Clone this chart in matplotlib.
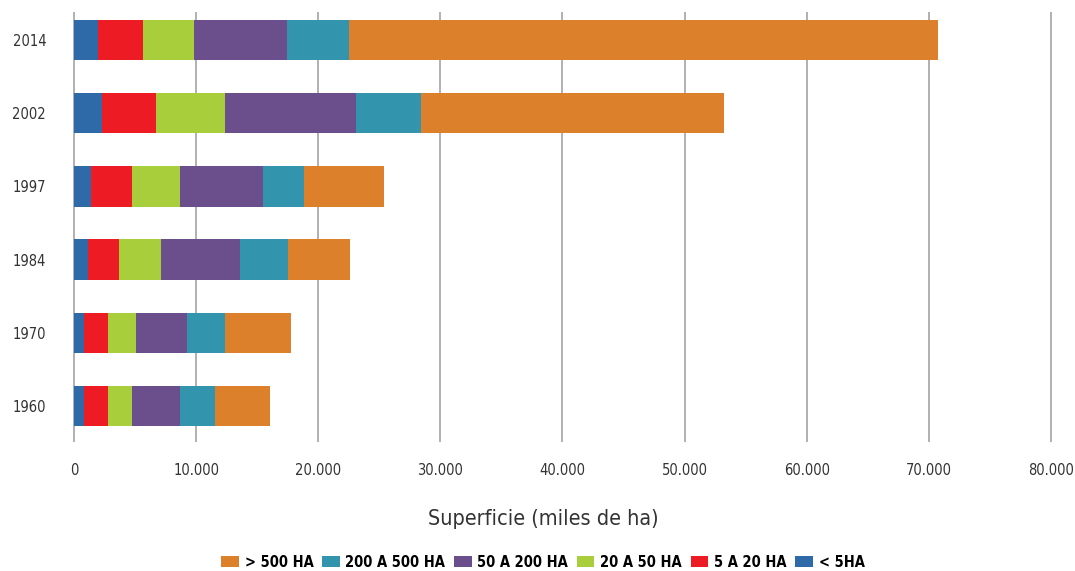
import numpy as np
import matplotlib
matplotlib.use("Agg")
import matplotlib.pyplot as plt
from matplotlib.ticker import FuncFormatter

plt.rcParams['font.family'] = ['DejaVu Sans']
plt.rcParams['font.stretch'] = 'condensed'

years = ["1960", "1970", "1984", "1997", "2002", "2014"]
labels = ["< 5HA", "5 A 20 HA", "20 A 50 HA", "50 A 200 HA", "200 A 500 HA", "> 500 HA"]
colors = ["#2E6AA8", "#ED1C24", "#A8CE3B", "#6B4F8C", "#3394AE", "#DD802B"]

# miles de ha per size class, 1960 -> 2014
lt5 = [820, 820, 1150, 1420, 2290, 1970]
a5_20 = [1970, 1970, 2540, 3360, 4450, 3710]
a20_50 = [1990, 2290, 3440, 3930, 5650, 4150]
a50_200 = [3930, 4180, 6470, 6800, 10730, 7640]
a200_500 = [2870, 3110, 3930, 3360, 5320, 5080]
gt500 = [4500, 5400, 5080, 6550, 24820, 48160]

series = [lt5, a5_20, a20_50, a50_200, a200_500, gt500]

fig = plt.figure(figsize=(10.75, 5.71), dpi=100)
ax = fig.add_axes([0.0688, 0.2277, 0.9089, 0.7495])

y = np.arange(len(years))
left = np.zeros(len(years))
handles = []
for vals, lab, col in zip(series, labels, colors):
    b = ax.barh(y, vals, left=left, height=0.55, color=col, label=lab, zorder=3)
    handles.append(b)
    left += np.array(vals)

ax.set_xlim(0, 80000)
ax.set_ylim(-0.48, 5.37)
ax.set_yticks(y)
ax.set_yticklabels(years)
ax.set_xticks(np.arange(0, 80001, 10000))
ax.xaxis.set_major_formatter(FuncFormatter(lambda v, p: "0" if v == 0 else f"{int(v):,}".replace(",", ".")))
ax.grid(axis="x", color="#b0b0b0", linewidth=1.4, zorder=0)
for gl in ax.get_xgridlines():
    gl.set_clip_on(False)
for s in ax.spines.values():
    s.set_visible(False)
ax.tick_params(length=0, labelsize=10.5, colors="#333333")
ax.tick_params(axis="x", pad=16)
ax.tick_params(axis="y", pad=20)

ax.set_xlabel("Superficie (miles de ha)", fontsize=15.5, color="#333333", labelpad=22)
ax.xaxis.label.set_x(0.48)

fig.legend(handles[::-1], labels[::-1], loc="center", bbox_to_anchor=(0.505, 0.015),
           ncol=6, frameon=False, handlelength=1.2, handleheight=0.8, handletextpad=0.4,
           columnspacing=0.6, prop={"weight": "bold", "size": 10.5})

fig.savefig("out.png", dpi=100)
